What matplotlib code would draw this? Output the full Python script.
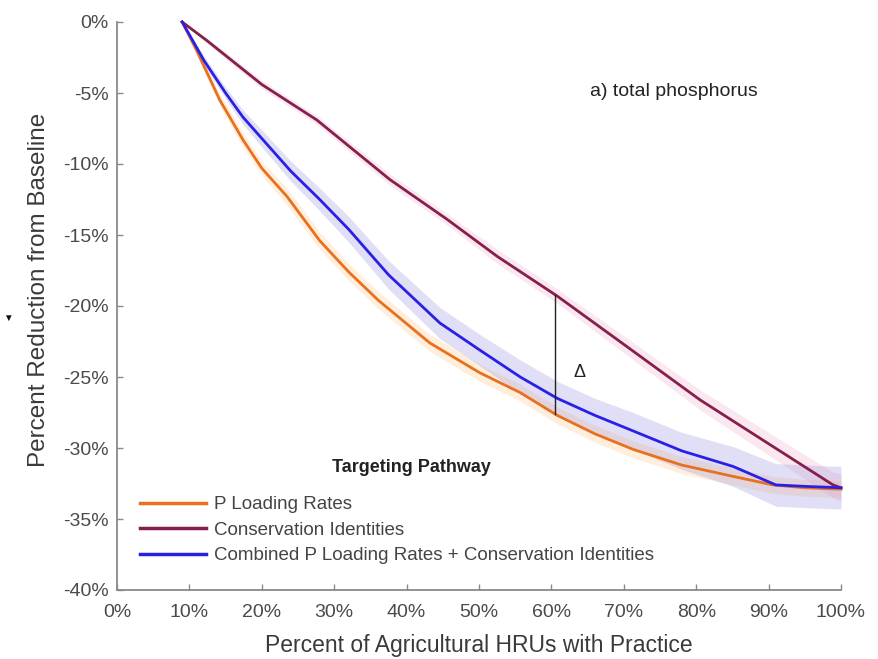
import numpy as np
import matplotlib
matplotlib.use("Agg")
import matplotlib.pyplot as plt

plt.rcParams['font.family'] = ['Liberation Sans', 'DejaVu Sans']

# ---- data (percent of agricultural HRUs, percent reduction) ----
cons_x = [9, 12.4, 20, 27.6, 37.7, 45.6, 52.5, 60.8, 70, 80.5, 90, 98.9, 100]
cons_y = [0, -1.3, -4.4, -6.9, -11.1, -13.9, -16.5, -19.3, -22.7, -26.6, -29.7, -32.6, -32.8]
cons_band = [0, 0.2, 0.3, 0.3, 0.4, 0.4, 0.5, 0.5, 0.6, 0.7, 0.8, 0.9, 1.0]

ploa_x = [9, 11, 14.2, 17.4, 20, 23.5, 28, 32, 36.1, 43.2, 50.1, 55.7, 60.8, 66, 71.3, 78, 85.1, 90.6, 95, 100]
ploa_y = [0, -2.0, -5.5, -8.3, -10.3, -12.3, -15.4, -17.6, -19.6, -22.6, -24.7, -26.1, -27.7, -29.0, -30.1, -31.2, -32.0, -32.6, -32.8, -32.9]
ploa_band = [0, 0.3, 0.4, 0.5, 0.5, 0.6, 0.6, 0.6, 0.6, 0.6, 0.6, 0.6, 0.6, 0.6, 0.6, 0.6, 0.6, 0.6, 0.6, 0.6]

comb_x = [9, 12, 15, 17.4, 20, 24, 28, 32, 37.5, 44.6, 50.1, 55.7, 60.8, 66, 71.3, 78, 85.1, 91, 95, 100]
comb_y = [0, -2.7, -5.0, -6.7, -8.2, -10.5, -12.5, -14.6, -17.8, -21.2, -23.1, -25.0, -26.5, -27.7, -28.8, -30.2, -31.3, -32.6, -32.7, -32.8]
comb_band = [0, 0.3, 0.4, 0.5, 0.6, 0.7, 0.8, 0.9, 1.0, 1.1, 1.1, 1.2, 1.2, 1.2, 1.3, 1.3, 1.4, 1.5, 1.5, 1.5]

labels = ["P Loading Rates", "Conservation Identities",
          "Combined P Loading Rates + Conservation Identities"]
colors = ["#E8701E", "#85204E", "#2A1FE6"]
band_colors = ["#FFC98A", "#F2A0C0", "#9C96E0"]

x_ticks = list(range(0, 101, 10))
y_ticks = list(range(0, -41, -5))
delta_x = 60.5

# ---- figure ----
fig = plt.figure(figsize=(8.79, 6.59), dpi=100)
ax = fig.add_axes([117/879, 1-590/659, 724/879, 568/659])

series = [(ploa_x, ploa_y, ploa_band), (cons_x, cons_y, cons_band), (comb_x, comb_y, comb_band)]
band_alpha = [0.30, 0.25, 0.30]
for (xs, ys, bw), c, bc, a in zip(series, colors, band_colors, band_alpha):
    xs = np.array(xs); ys = np.array(ys); bw = np.array(bw)
    ax.fill_between(xs, ys - bw, ys + bw, color=bc, alpha=a, lw=0, clip_on=False)

handles = []
for (xs, ys, bw), c, lab in zip(series, colors, labels):
    h, = ax.plot(xs, ys, color=c, lw=2.0, label=lab, clip_on=False, zorder=3)
    handles.append(h)

# delta annotation
y_top = np.interp(delta_x, cons_x, cons_y)
y_bot = np.interp(delta_x, ploa_x, ploa_y)
ax.plot([delta_x, delta_x], [y_top, y_bot], color="#222222", lw=1.0, zorder=4)
ax.text(63.0, -24.7, "Δ", fontsize=13, color="#222222", va="center", ha="left")

ax.text(65.3, -4.9, "a) total phosphorus", fontsize=14, color="#222222",
        va="center", ha="left")

ax.set_xlim(0, 100)
ax.set_ylim(-40, 0)
ax.set_xticks(x_ticks)
ax.set_xticklabels([f"{t}%" for t in x_ticks])
ax.set_yticks(y_ticks)
ax.set_yticklabels([f"{t}%" for t in y_ticks])

for s in ["top", "right"]:
    ax.spines[s].set_visible(False)
for s in ["left", "bottom"]:
    ax.spines[s].set_color("#8a8a8a")
    ax.spines[s].set_linewidth(1.3)
ax.tick_params(direction="in", length=4, width=1, color="#8a8a8a",
               labelsize=14, labelcolor="#4a4a4a", pad=6)
ax.tick_params(axis="x", pad=10)

ax.set_xlabel("Percent of Agricultural HRUs with Practice", fontsize=16.5, color="#3a3a3a")
ax.set_ylabel("Percent Reduction from Baseline", fontsize=17.5, color="#3a3a3a")
ax.xaxis.set_label_coords(0.5, -0.078)
ax.yaxis.set_label_coords(-0.093, 0.528)

# legend
ax.text(0.406, 0.215, "Targeting Pathway", transform=ax.transAxes,
        fontsize=13, fontweight="bold", color="#222222", ha="center", va="center")
leg = ax.legend(handles=handles, loc="lower left", bbox_to_anchor=(0.032, 0.045),
                frameon=False, fontsize=13.5, handlelength=3.5, handletextpad=0.45,
                labelspacing=0.45, borderaxespad=0, borderpad=0)
for t in leg.get_texts():
    t.set_color("#444444")
for lh in leg.get_lines():
    lh.set_linewidth(2.5)

fig.text(8/879, 1-318/659, "▼", fontsize=7, color="#111111", ha="center", va="center")

fig.savefig("out.png", dpi=100, facecolor="white")
